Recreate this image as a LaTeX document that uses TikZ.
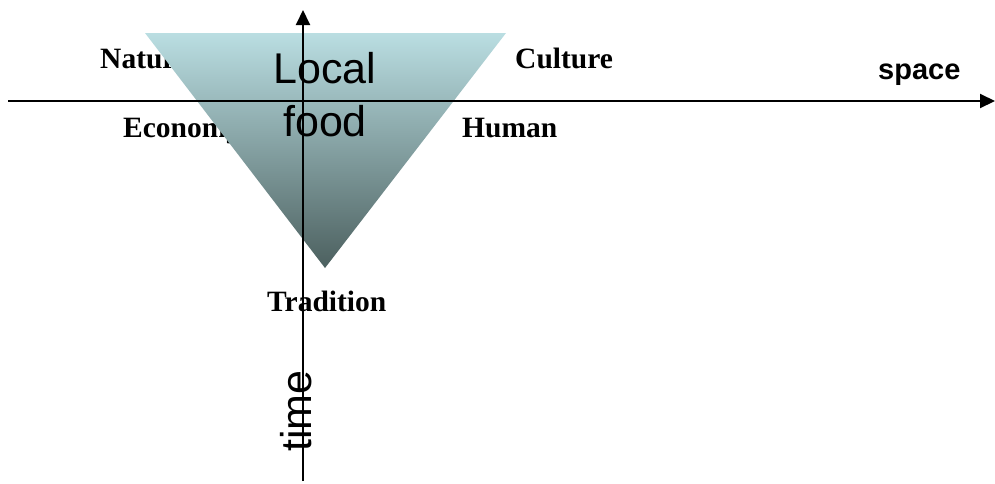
\documentclass[tikz,border=0pt]{standalone}
\usepackage{fontspec}
\setmainfont{Liberation Serif}
\setsansfont{Liberation Sans}
\usetikzlibrary{arrows.meta,positioning}

\definecolor{triTop}{RGB}{186,222,226}
\definecolor{triBottom}{RGB}{76,96,95}

\begin{document}
\begin{tikzpicture}[x=1pt, y=-1pt,
    every node/.style={inner sep=0pt},
    dimlabel/.style={font=\fontsize{29.5}{32}\selectfont\bfseries, anchor=base west},
    axis/.style={line width=2pt, -{Triangle[length=15pt, width=14pt]}},
    bigtext/.style={font=\fontsize{43}{53}\selectfont\sffamily, align=center},
]
\useasboundingbox (0,0) rectangle (995,483);

% ===== Dimension labels =====
\node[dimlabel] (nature) at (100,68) {Nature};
\node[dimlabel] (culture) at (515,68) {Culture};
\node[dimlabel] (economy) at (123,137) {Economy};
\node[dimlabel] (human) at (462,137) {Human};
\node[dimlabel] (tradition) at (267,311) {Tradition};

% ===== Inverted triangle =====
\coordinate (tl) at (145,33);
\coordinate (tr) at (506,33);
\coordinate (tip) at (325,268);
\shade[top color=triTop, bottom color=triBottom] (tl) -- (tr) -- (tip) -- cycle;

% ===== Axes =====
\coordinate (xstart) at (8,101);
\coordinate (xend) at (995,101);
\coordinate (ystart) at (303,481);
\coordinate (yend) at (303,10);
\draw[axis] (xstart) -- (xend);
\draw[axis] (ystart) -- (yend);

% Axis labels
\node[font=\fontsize{29}{32}\selectfont\sffamily\bfseries, anchor=base west] (space) at (878,79) {space};
\node[font=\fontsize{43}{48}\selectfont\sffamily, rotate=90, anchor=base] (time) at (311,411) {time};

% Centre text
\node[bigtext, anchor=base] (local) at (325,83) {Local};
\node[bigtext, anchor=base] (food) at (325,136) {food};

\end{tikzpicture}
\end{document}
